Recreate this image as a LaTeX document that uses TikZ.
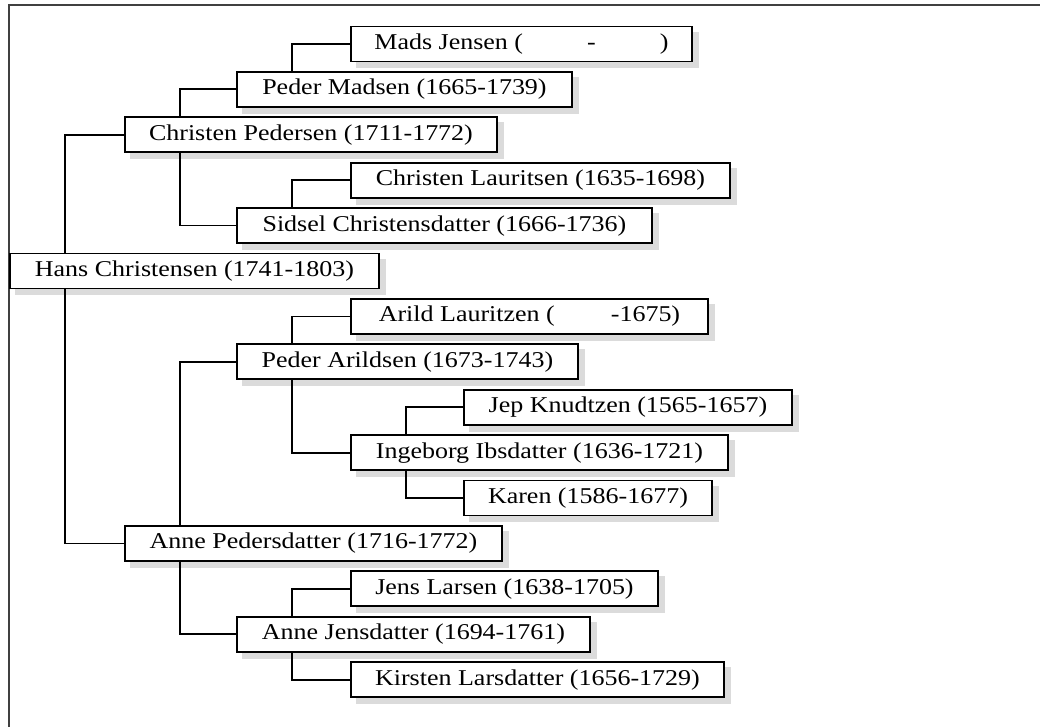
\documentclass[tikz,border=0pt]{standalone}
\usepackage{fontspec}
\setmainfont{Liberation Serif}[FakeStretch=1.15]
\usepackage{tikz}
\usetikzlibrary{positioning}
\pgfdeclarelayer{background}
\pgfsetlayers{background,main}

\begin{document}
\begin{tikzpicture}[x=1pt,y=-1pt,
	person/.style={draw, line width=1.9pt, fill=white, anchor=west, minimum height=35pt, inner sep=0pt,
		font=\fontsize{22.6}{27}\selectfont},
	shade/.style={fill=black!14},
	link/.style={line width=1.8pt, black},
	frame/.style={line width=2.6pt, black!75}]
			\useasboundingbox (0,0) rectangle (1040,727);
			\draw[frame] (9,727) -- (9,5) -- (1045,5);
			
			\node[person, minimum width=341pt] (mads) at (350, 44) {Mads Jensen (\hspace{64pt}-\hspace{64pt})};
			\node[person, minimum width=335pt] (pederM) at (236, 89.4) {Peder Madsen (1665-1739)};
			\node[person, minimum width=372pt] (christenP) at (124, 134.8) {Christen Pedersen (1711-1772)};
			\node[person, minimum width=379pt] (christenL) at (350, 180.2) {Christen Lauritsen (1635-1698)};
			\node[person, minimum width=415pt] (sidsel) at (236, 225.6) {Sidsel Christensdatter (1666-1736)};
			\node[person, minimum width=369pt] (hans) at (9, 271) {Hans Christensen (1741-1803)};
			\node[person, minimum width=357pt] (arild) at (350, 316.4) {Arild Lauritzen (\hspace{56pt}-1675)};
			\node[person, minimum width=341pt] (pederA) at (236, 361.8) {Peder Arildsen (1673-1743)};
			\node[person, minimum width=328pt] (jep) at (463, 407.2) {Jep Knudtzen (1565-1657)};
			\node[person, minimum width=377pt] (ingeborg) at (350, 452.6) {Ingeborg Ibsdatter (1636-1721)};
			\node[person, minimum width=248pt] (karen) at (463, 498) {Karen (1586-1677)};
			\node[person, minimum width=377pt] (anneP) at (124, 543.4) {Anne Pedersdatter (1716-1772)};
			\node[person, minimum width=307pt] (jens) at (350, 588.8) {Jens Larsen (1638-1705)};
			\node[person, minimum width=353pt] (anneJ) at (236, 634.2) {Anne Jensdatter (1694-1761)};
			\node[person, minimum width=373pt] (kirsten) at (350, 679.6) {Kirsten Larsdatter (1656-1729)};
			
			\begin{pgfonlayer}{background}
			\foreach \p in {mads,pederM,christenP,christenL,sidsel,hans,arild,pederA,jep,ingeborg,karen,anneP,jens,anneJ,kirsten}
				\fill[shade] ([xshift=6pt,yshift=-6pt]\p.north west) rectangle ([xshift=6pt,yshift=-6pt]\p.south east);
			\end{pgfonlayer}
			
			\draw[link] ([xshift=56pt]hans.north west) |- (christenP.west);
			\draw[link] ([xshift=56pt]hans.south west) |- (anneP.west);
			
			\draw[link] ([xshift=56pt]christenP.north west) |- (pederM.west);
			\draw[link] ([xshift=56pt]christenP.south west) |- (sidsel.west);
			\draw[link] ([xshift=56pt]pederM.north west) |- (mads.west);
			\draw[link] ([xshift=56pt]sidsel.north west) |- (christenL.west);
			
			\draw[link] ([xshift=56pt]anneP.north west) |- (pederA.west);
			\draw[link] ([xshift=56pt]anneP.south west) |- (anneJ.west);
			\draw[link] ([xshift=56pt]pederA.north west) |- (arild.west);
			\draw[link] ([xshift=56pt]pederA.south west) |- (ingeborg.west);
			\draw[link] ([xshift=56pt]ingeborg.north west) |- (jep.west);
			\draw[link] ([xshift=56pt]ingeborg.south west) |- (karen.west);
			\draw[link] ([xshift=56pt]anneJ.north west) |- (jens.west);
			\draw[link] ([xshift=56pt]anneJ.south west) |- (kirsten.west);
			
\end{tikzpicture}
\end{document}
